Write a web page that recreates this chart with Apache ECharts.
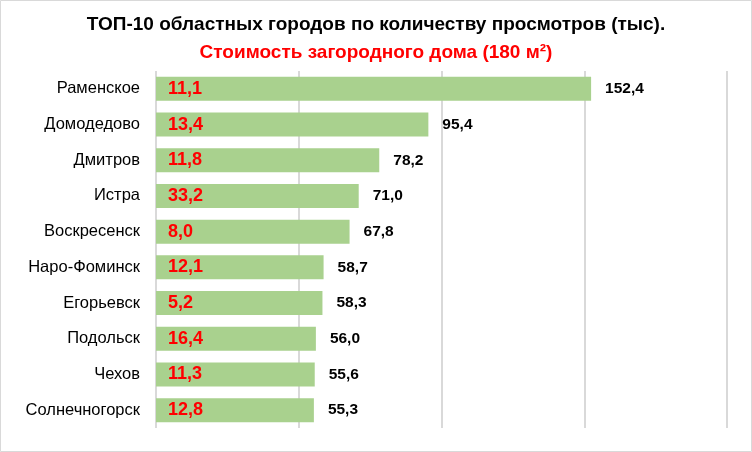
<!DOCTYPE html>
<html><head><meta charset="utf-8">
<script src="https://cdn.jsdelivr.net/npm/echarts@6/dist/echarts.min.js"></script>
<style>html,body{margin:0;padding:0;background:#fff}#c{width:752px;height:452px}</style>
</head><body><div id="c"></div>
<script>
const categories = ['Раменское','Домодедово','Дмитров','Истра','Воскресенск','Наро-Фоминск','Егорьевск','Подольск','Чехов','Солнечногорск'];
const views = [152.4, 95.4, 78.2, 71.0, 67.8, 58.7, 58.3, 56.0, 55.6, 55.3];
const houseCost = [11.1, 13.4, 11.8, 33.2, 8.0, 12.1, 5.2, 16.4, 11.3, 12.8];
const titleText = 'ТОП-10 областных городов по количеству просмотров (тыс).';
const subtitleText = 'Стоимость загородного дома (180 м²)';

const fmt = v => v.toFixed(1).replace('.', ',');
const FONT = '"Liberation Sans", Arial, sans-serif';
const chart = echarts.init(document.getElementById('c'), null, {renderer: 'canvas'});
chart.setOption({
  backgroundColor: '#fff',
  animation: false,
  title: [
    {text: titleText, left: 'center', top: 10, textStyle: {fontFamily: FONT, fontSize: 19, fontWeight: 'bold', color: '#000'}},
    {text: subtitleText, left: 'center', top: 38, textStyle: {fontFamily: FONT, fontSize: 19, fontWeight: 'bold', color: '#ff0000'}}
  ],
  graphic: [{type: 'rect', shape: {x: 0.5, y: 0.5, width: 751, height: 451}, style: {fill: 'none', stroke: '#d9d9d9', lineWidth: 1}, silent: true}],
  grid: {left: 156, right: 25, top: 71, bottom: 24, containLabel: false},
  xAxis: {type: 'value', min: 0, max: 200, interval: 50,
    axisLabel: {show: false}, axisLine: {show: false}, axisTick: {show: false},
    splitLine: {show: true, lineStyle: {color: '#d9d9d9', width: 2}}},
  yAxis: {type: 'category', data: categories, inverse: true,
    axisLine: {show: false}, axisTick: {show: false},
    axisLabel: {fontFamily: FONT, fontSize: 16.5, color: '#000', margin: 16}},
  series: [
    {type: 'bar', data: views, barWidth: 24, itemStyle: {color: '#a9d18e'},
      label: {show: true, position: 'right', distance: 14, formatter: p => fmt(p.value),
        fontFamily: FONT, fontSize: 15.5, fontWeight: 'bold', color: '#000'}},
    {type: 'bar', data: views, barWidth: 24, barGap: '-100%', itemStyle: {color: 'rgba(0,0,0,0)'},
      label: {show: true, position: 'insideLeft', distance: 12, formatter: p => fmt(houseCost[p.dataIndex]),
        fontFamily: FONT, fontSize: 18, fontWeight: 'bold', color: '#ff0000'}, z: 3}
  ]
});
</script></body></html>
